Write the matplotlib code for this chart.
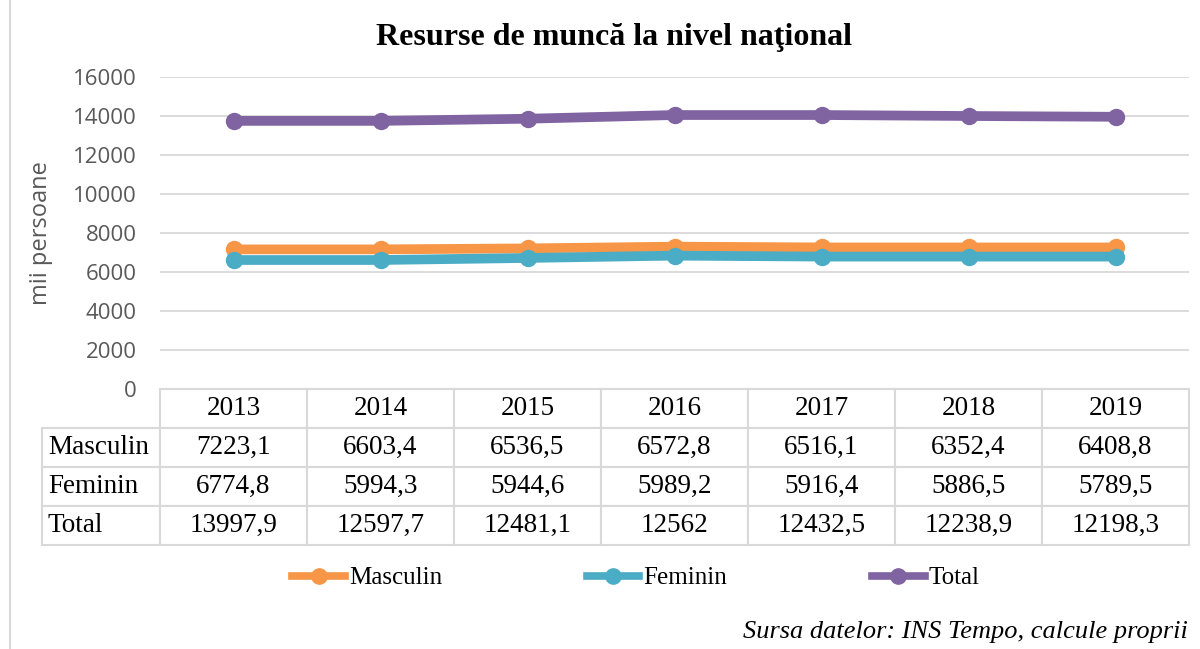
import matplotlib.pyplot as plt
from matplotlib.lines import Line2D

years = ["2013", "2014", "2015", "2016", "2017", "2018", "2019"]
series_names = ["Masculin", "Feminin", "Total"]

masculin_plot = [7160, 7160, 7210, 7300, 7260, 7260, 7260]
feminin_plot = [6615, 6615, 6720, 6840, 6790, 6790, 6790]
total_plot = [13750, 13750, 13860, 14050, 14050, 14000, 13960]

# values as written in the data table
masculin_tab = ["7223,1", "6603,4", "6536,5", "6572,8", "6516,1", "6352,4", "6408,8"]
feminin_tab = ["6774,8", "5994,3", "5944,6", "5989,2", "5916,4", "5886,5", "5789,5"]
total_tab = ["13997,9", "12597,7", "12481,1", "12562", "12432,5", "12238,9", "12198,3"]

colors = ["#F79646", "#4BACC6", "#8064A2"]
serif = "Liberation Serif"
grid_col = "#d9d9d9"

fig = plt.figure(figsize=(12, 6.49), dpi=100)
ax = fig.add_axes([160 / 1200, 1 - 389 / 649, 1029 / 1200, 312 / 649])

x = list(range(len(years)))
for vals, name, col in zip([masculin_plot, feminin_plot, total_plot], series_names, colors):
    ax.plot(x, vals, color=col, linewidth=7, marker="o", markersize=11.5,
            label=name, solid_capstyle="butt", zorder=3)

ax.set_xlim(-0.5, len(years) - 0.5)
ax.set_ylim(0, 16000)
ax.set_yticks(range(0, 16001, 2000))
ax.set_xticks([])
ax.yaxis.grid(True, color=grid_col, linewidth=1.3)
ax.set_axisbelow(True)
for s in ax.spines.values():
    s.set_visible(False)
ax.tick_params(axis="y", length=0, pad=17, labelsize=16, labelcolor="#595959")
for lbl in ax.get_yticklabels():
    lbl.set_family("Open Sans")
ax.set_ylabel("mii persoane", fontsize=17, color="#595959", family="Open Sans", labelpad=14)

# data table under the plot; first column holds the series names
rows = [[n] + v for n, v in zip(series_names, [masculin_tab, feminin_tab, total_tab])]
label_w = 118
col_w = 147
total_w = label_w + col_w * len(years)
x0 = -label_w / (col_w * len(years))
tbl = ax.table(cellText=rows, colLabels=[""] + years,
               colWidths=[label_w / total_w] + [col_w / total_w] * len(years),
               cellLoc="center", bbox=[x0, -0.5, 1 - x0, 0.5])
tbl.auto_set_font_size(False)
for (r, c), cell in tbl.get_celld().items():
    cell.set_edgecolor(grid_col)
    cell.set_linewidth(1.5)
    cell.set_text_props(fontsize=19.5, family=serif, color="black")
    if c == 0:
        cell.set_text_props(ha="left")
        cell.PAD = 0.05
    if r == 0 and c == 0:
        cell.visible_edges = ""

fig.text(0.512, 1 - 37 / 649, "Resurse de muncă la nivel naţional", ha="center", va="center",
         fontsize=23, fontweight="bold", family=serif)

handles = [Line2D([0], [0], color=c, linewidth=5.5, marker="o", markersize=11) for c in colors]
fig.legend(handles, series_names, loc="center", bbox_to_anchor=(636 / 1200, 1 - 578 / 649),
           ncol=3, frameon=False, prop={"family": serif, "size": 18},
           handlelength=2.1, handletextpad=0.16, columnspacing=5.8)

fig.text(1188 / 1200, 1 - 632 / 649, "Sursa datelor: INS Tempo, calcule proprii", ha="right",
         va="center", fontsize=19, style="italic", family=serif)

fig.add_artist(Line2D([10 / 1200, 10 / 1200], [0, 1], color=grid_col, linewidth=1.5))

plt.savefig("out.png", dpi=100)
